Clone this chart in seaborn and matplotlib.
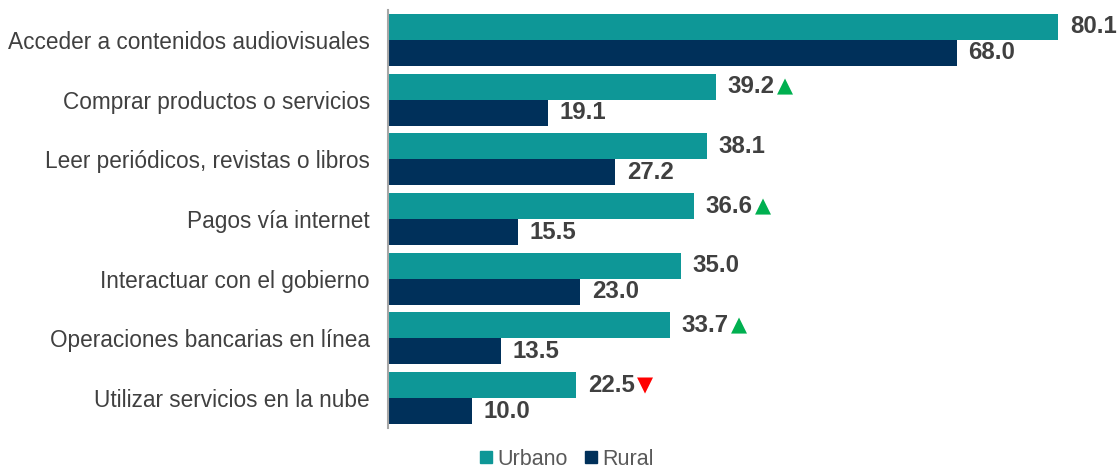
import matplotlib
matplotlib.use("Agg")
import matplotlib.pyplot as plt
from matplotlib.lines import Line2D
import pandas as pd
import seaborn as sns

categories = [
    "Acceder a contenidos audiovisuales",
    "Comprar productos o servicios",
    "Leer periódicos, revistas o libros",
    "Pagos vía internet",
    "Interactuar con el gobierno",
    "Operaciones bancarias en línea",
    "Utilizar servicios en la nube",
]
urbano = [80.1, 39.2, 38.1, 36.6, 35.0, 33.7, 22.5]
rural = [68.0, 19.1, 27.2, 15.5, 23.0, 13.5, 10.0]
# change marker for the urban value: 1 up, -1 down, 0 none
urbano_trend = [0, 1, 0, 1, 0, 1, -1]

teal = "#0E9797"
navy = "#00305A"
text_col = "#404040"

df = pd.DataFrame({
    "categoria": categories * 2,
    "valor": urbano + rural,
    "zona": ["Urbano"] * len(categories) + ["Rural"] * len(categories),
})

sns.set_style("white")
plt.rcParams["font.family"] = ["Liberation Sans", "DejaVu Sans"]

fig = plt.figure(figsize=(11.18, 4.68), dpi=100)
ax = fig.add_axes([0.347, 0.0855, 0.636, 0.893])

sns.barplot(data=df, y="categoria", x="valor", hue="zona", orient="h",
            palette={"Urbano": teal, "Rural": navy}, width=0.87,
            ax=ax, legend=False, saturation=1, linewidth=0)

ax.set_xlim(0, 85)
ax.set_ylim(6.5, -0.5)
ax.set_xlabel("")
ax.set_ylabel("")
ax.set_xticks([])
ax.tick_params(axis="y", length=0, pad=13, labelsize=16.3, labelcolor=text_col)
for s in ["top", "right", "bottom"]:
    ax.spines[s].set_visible(False)
ax.spines["left"].set_color("#A6A6A6")
ax.spines["left"].set_linewidth(1.5)

fig.canvas.draw()
renderer = fig.canvas.get_renderer()
for cont, vals in zip(ax.containers, [urbano, rural]):
    for i, (bar, v) in enumerate(zip(cont, vals)):
        y = bar.get_y() + bar.get_height() / 2
        t = ax.annotate(f"{v:.1f}", xy=(bar.get_width(), y), xytext=(8.5, 0),
                        textcoords="offset points", va="center", ha="left",
                        fontsize=17.3, fontweight="bold", color=text_col)
        if vals is urbano and urbano_trend[i] != 0:
            bb = t.get_window_extent(renderer)
            x_data = ax.transData.inverted().transform((bb.x1 + 2, 0))[0]
            up = urbano_trend[i] > 0
            ax.annotate("▲" if up else "▼", xy=(x_data, y), va="center", ha="left",
                        fontsize=15, color="#00B050" if up else "#FF0000",
                        family=["DejaVu Sans"])

handles = [Line2D([], [], marker="s", linestyle="", color=teal, markersize=8),
           Line2D([], [], marker="s", linestyle="", color=navy, markersize=8)]
fig.legend(handles, ["Urbano", "Rural"], loc="lower center",
           bbox_to_anchor=(0.505, -0.045), ncol=2, frameon=False,
           fontsize=15.5, labelcolor="#595959", handletextpad=0.05,
           columnspacing=0.55, handlelength=1.0)

fig.savefig("out.png", dpi=100)
